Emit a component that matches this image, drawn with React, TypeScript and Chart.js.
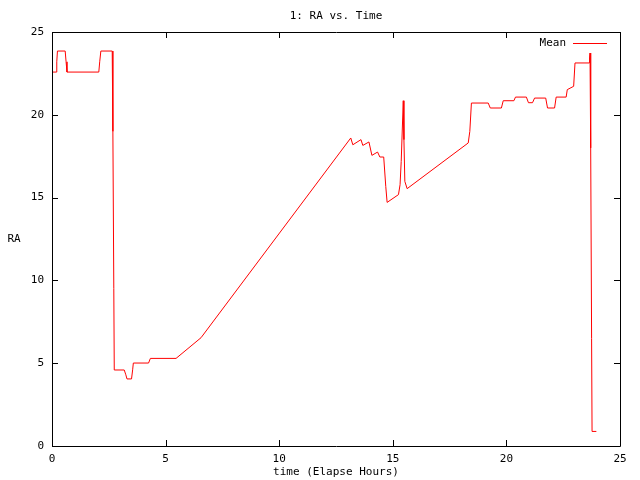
import React, { useEffect, useRef } from "react";
import { Chart, registerables } from "chart.js";

Chart.register(...registerables);

const chartTitle = "1: RA vs. Time";
const xAxisTitle = "time (Elapse Hours)";
const yAxisTitle = "RA";
const seriesName = "Mean";

const timeHours = [
  0, 0.18, 0.21, 0.24, 0.58, 0.62, 0.66, 2.06, 2.1, 2.15, 2.65, 2.68, 2.72, 2.74,
  3.18, 3.25, 3.3, 3.5, 3.55, 3.58, 4.25, 4.33, 5.46, 6.56, 13.15, 13.24, 13.6,
  13.68, 13.95, 14.08, 14.33, 14.43, 14.6, 14.69, 14.75, 15.25, 15.32, 15.37,
  15.46, 15.49, 15.53, 15.63, 18.32, 18.39, 18.46, 19.2, 19.29, 19.78, 19.86,
  20.33, 20.4, 20.88, 20.97, 21.15, 21.24, 21.73, 21.81, 22.12, 22.19, 22.63,
  22.68, 22.96, 23.02, 23.64, 23.66, 23.68, 23.71, 23.75, 23.77, 23.96,
];

const raValues = [
  22.58, 22.58, 23.2, 23.85, 23.85, 23.2, 22.58, 22.58, 23.2, 23.85, 23.85, 19.0, 9.5, 4.59,
  4.59, 4.3, 4.05, 4.05, 4.6, 5.01, 5.01, 5.29, 5.29, 6.54, 18.6, 18.19, 18.5,
  18.15, 18.36, 17.55, 17.75, 17.45, 17.45, 15.68, 14.71, 15.18, 15.78, 17.19,
  20.85, 18.5, 15.98, 15.54, 18.3, 19.0, 20.71, 20.71, 20.41, 20.41, 20.85,
  20.85, 21.07, 21.07, 20.73, 20.73, 21.01, 21.01, 20.41, 20.41, 21.07, 21.07,
  21.52, 21.72, 23.13, 23.13, 23.43, 23.73, 18.0, 6.5, 0.88, 0.88,
];

const tickValues = [0, 5, 10, 15, 20, 25];

const FONT = "'DejaVu Sans Mono', monospace";

const gnuplotPlugin = {
  id: "gnuplotDecor",
  afterDraw(chart: any) {
    const { ctx, chartArea } = chart;
    const { left, right, top, bottom } = chartArea;
    const xs = chart.scales.x;
    const ys = chart.scales.y;
    ctx.save();
    ctx.strokeStyle = "#000";
    ctx.lineWidth = 1;
    ctx.beginPath();
    ctx.rect(Math.round(left) + 0.5, Math.round(top) + 0.5, Math.round(right - left), Math.round(bottom - top));
    ctx.stroke();
    const tl = 6;
    ctx.beginPath();
    tickValues.forEach((v) => {
      const px = Math.round(xs.getPixelForValue(v)) + 0.5;
      ctx.moveTo(px, bottom);
      ctx.lineTo(px, bottom - tl);
      ctx.moveTo(px, top);
      ctx.lineTo(px, top + tl);
      const py = Math.round(ys.getPixelForValue(v)) + 0.5;
      ctx.moveTo(left, py);
      ctx.lineTo(left + tl, py);
      ctx.moveTo(right, py);
      ctx.lineTo(right - tl, py);
    });
    ctx.stroke();

    ctx.fillStyle = "#000";
    ctx.font = "11px " + FONT;
    ctx.textBaseline = "middle";
    ctx.textAlign = "center";
    ctx.fillText(chartTitle, (left + right) / 2, 16);
    ctx.fillText(xAxisTitle, (left + right) / 2, 472);
    ctx.fillText(yAxisTitle, 14, (top + bottom) / 2);

    ctx.textAlign = "right";
    ctx.fillText(seriesName, 566, 43);
    ctx.strokeStyle = "#ff0000";
    ctx.beginPath();
    ctx.moveTo(573, 43.5);
    ctx.lineTo(607, 43.5);
    ctx.stroke();
    ctx.restore();
  },
};

export default function App() {
  const canvasRef = useRef<HTMLCanvasElement | null>(null);

  useEffect(() => {
    const canvas = canvasRef.current;
    if (!canvas) return;
    const points = timeHours.map((t, i) => ({ x: t, y: raValues[i] }));
    const chart = new Chart(canvas, {
      type: "line",
      data: {
        datasets: [
          {
            label: seriesName,
            data: points,
            borderColor: "#ff0000",
            backgroundColor: "#ff0000",
            borderWidth: 1,
            pointRadius: 0,
            tension: 0,
          },
        ],
      },
      options: {
        responsive: false,
        animation: false,
        devicePixelRatio: 1,
        layout: { padding: { left: 0, right: 20, top: 32, bottom: 0 } },
        plugins: {
          legend: { display: false },
          title: { display: false },
          tooltip: { enabled: false },
        },
        scales: {
          x: {
            type: "linear",
            min: 0,
            max: 25,
            grid: { display: false, drawTicks: false },
            border: { display: false },
            afterFit: (s: any) => {
              s.height = 34;
            },
            afterBuildTicks: (s: any) => {
              s.ticks = tickValues.map((v) => ({ value: v }));
            },
            ticks: {
              padding: 7,
              color: "#000",
              font: { family: FONT, size: 11 },
              maxRotation: 0,
            },
          },
          y: {
            type: "linear",
            min: 0,
            max: 25,
            grid: { display: false, drawTicks: false },
            border: { display: false },
            afterFit: (s: any) => {
              s.width = 52;
            },
            afterBuildTicks: (s: any) => {
              s.ticks = tickValues.map((v) => ({ value: v }));
            },
            ticks: {
              padding: 8,
              color: "#000",
              font: { family: FONT, size: 11 },
            },
          },
        },
      },
      plugins: [gnuplotPlugin],
    });
    return () => chart.destroy();
  }, []);

  return (
    <div style={{ position: "absolute", left: 0, top: 0, width: 640, height: 480, background: "#fff" }}>
      <canvas ref={canvasRef} width={640} height={480} style={{ width: 640, height: 480, display: "block" }} />
    </div>
  );
}
